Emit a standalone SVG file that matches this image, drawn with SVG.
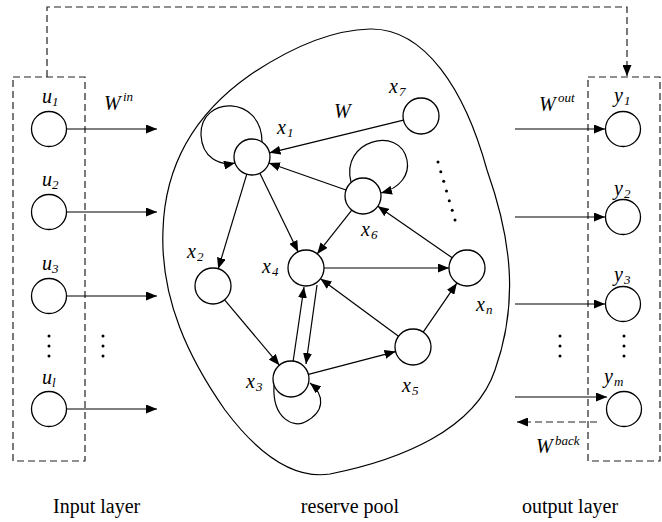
<svg xmlns="http://www.w3.org/2000/svg" width="662" height="522" viewBox="0 0 662 522">
<style>
.n{fill:#fff;stroke:#000;stroke-width:1.3}
.e{fill:none;stroke:#000;stroke-width:1.2}
.d{fill:none;stroke:#222;stroke-width:1.2;stroke-dasharray:7,4}
.t{font-family:"Liberation Serif","Times New Roman",serif;font-style:italic;font-size:20px;fill:#000}
.s{font-family:"Liberation Serif","Times New Roman",serif;font-style:italic;font-size:13px;fill:#000}
.h{font-family:"Liberation Serif","Times New Roman",serif;font-size:20px;fill:#000}
.dot{fill:#000}
</style>
<defs>
<marker id="a" markerUnits="userSpaceOnUse" markerWidth="12" markerHeight="9" refX="11" refY="4.5" orient="auto"><path d="M0,0 L11,4.5 L0,9 z" fill="#000"/></marker>
</defs>
<rect width="662" height="522" fill="#fff"/>

<g id="layers">
<rect x="13" y="77" width="72" height="384" class="d"/>
<rect x="588" y="77" width="72" height="384" class="d"/>
<path d="M370,29 C425,28 465,90 487,170 C510,235 520,300 495,370 C475,430 400,460 330,474 C290,480 255,450 225,410 C190,360 160,300 163,230 C165,160 200,110 250,75 C290,48 330,30 370,29 Z" class="e"/>
</g>

<g id="connectors">
<path d="M47,77 V7 H627 V76" class="d" marker-end="url(#a)"/>
<line x1="67" y1="129" x2="157" y2="129" class="e" marker-end="url(#a)"/>
<line x1="67" y1="212" x2="157" y2="212" class="e" marker-end="url(#a)"/>
<line x1="67" y1="296" x2="157" y2="296" class="e" marker-end="url(#a)"/>
<line x1="67" y1="409" x2="157" y2="409" class="e" marker-end="url(#a)"/>
<line x1="515" y1="129" x2="605" y2="129" class="e" marker-end="url(#a)"/>
<line x1="515" y1="217" x2="605" y2="217" class="e" marker-end="url(#a)"/>
<line x1="515" y1="304" x2="605" y2="304" class="e" marker-end="url(#a)"/>
<line x1="515" y1="397" x2="607" y2="397" class="e" marker-end="url(#a)"/>
<line x1="597" y1="422" x2="517" y2="422" class="d" marker-end="url(#a)"/>

<line x1="403.5" y1="120.2" x2="269.5" y2="152.8" class="e" marker-end="url(#a)"/>
<line x1="346" y1="190" x2="269" y2="163" class="e" marker-end="url(#a)"/>
<line x1="246.8" y1="174.2" x2="218.2" y2="268.8" class="e" marker-end="url(#a)"/>
<line x1="259.9" y1="173.2" x2="298.1" y2="251.8" class="e" marker-end="url(#a)"/>
<line x1="351.8" y1="210.1" x2="317.2" y2="253.9" class="e" marker-end="url(#a)"/>
<line x1="452.2" y1="257.8" x2="377.8" y2="206.2" class="e" marker-end="url(#a)"/>
<line x1="324" y1="268" x2="449" y2="268" class="e" marker-end="url(#a)"/>
<line x1="398.5" y1="336.3" x2="320.5" y2="278.7" class="e" marker-end="url(#a)"/>
<line x1="423.2" y1="332.1" x2="456.8" y2="283.2" class="e" marker-end="url(#a)"/>
<line x1="308.4" y1="374.4" x2="395.6" y2="351.6" class="e" marker-end="url(#a)"/>
<line x1="224.6" y1="299.8" x2="279.4" y2="365.2" class="e" marker-end="url(#a)"/>
<line x1="293" y1="362" x2="304" y2="287" class="e" marker-end="url(#a)"/>
<line x1="317" y1="285" x2="306" y2="364" class="e" marker-end="url(#a)"/>
<path d="M262,142 C262,95 200,95 201,135 C202,158 220,166 235,163" class="e" marker-end="url(#a)"/>
<path d="M351,182 C340,140 400,125 407,160 C410,175 400,188 381,193" class="e" marker-end="url(#a)"/>
<path d="M274,385 C272,420 295,428 305,422 C325,412 325,395 310,383" class="e" marker-end="url(#a)"/>
</g>

<g id="u1"><circle cx="49" cy="129" r="17.5" class="n"/><text x="42" y="103" class="t">u</text><text x="52" y="106" class="s">1</text></g>
<g id="u2"><circle cx="49" cy="212" r="17.5" class="n"/><text x="42" y="186" class="t">u</text><text x="52" y="189" class="s">2</text></g>
<g id="u3"><circle cx="49" cy="296" r="17.5" class="n"/><text x="42" y="270" class="t">u</text><text x="52" y="273" class="s">3</text></g>
<g id="ul"><circle cx="49" cy="409" r="17.5" class="n"/><text x="42" y="384" class="t">u</text><text x="52" y="387" class="s">l</text></g>

<g id="y1"><circle cx="623" cy="129" r="17.5" class="n"/><text x="614" y="102" class="t">y</text><text x="624" y="105" class="s">1</text></g>
<g id="y2"><circle cx="623" cy="217" r="17.5" class="n"/><text x="614" y="195" class="t">y</text><text x="624" y="198" class="s">2</text></g>
<g id="y3"><circle cx="623" cy="304" r="17.5" class="n"/><text x="614" y="281" class="t">y</text><text x="624" y="284" class="s">3</text></g>
<g id="ym"><circle cx="624" cy="409" r="17.5" class="n"/><text x="604" y="383" class="t">y</text><text x="614" y="386" class="s">m</text></g>

<g id="x1"><circle cx="252" cy="157" r="18" class="n"/><text x="277" y="134" class="t">x</text><text x="287" y="137" class="s">1</text></g>
<g id="x7"><circle cx="421" cy="116" r="18" class="n"/><text x="389" y="93" class="t">x</text><text x="399" y="96" class="s">7</text></g>
<g id="x6"><circle cx="363" cy="196" r="18" class="n"/><text x="361" y="236" class="t">x</text><text x="371" y="239" class="s">6</text></g>
<g id="x2"><circle cx="213" cy="286" r="18" class="n"/><text x="187" y="258" class="t">x</text><text x="197" y="261" class="s">2</text></g>
<g id="x4"><circle cx="306" cy="268" r="18" class="n"/><text x="262" y="273" class="t">x</text><text x="272" y="276" class="s">4</text></g>
<g id="xn"><circle cx="467" cy="268" r="18" class="n"/><text x="476" y="311" class="t">x</text><text x="486" y="314" class="s">n</text></g>
<g id="x3"><circle cx="291" cy="379" r="18" class="n"/><text x="246" y="388" class="t">x</text><text x="256" y="391" class="s">3</text></g>
<g id="x5"><circle cx="413" cy="347" r="18" class="n"/><text x="402" y="392" class="t">x</text><text x="412" y="395" class="s">5</text></g>

<g id="labels">
<text x="334" y="118" class="t">W</text>
<text x="104" y="110" class="t">W</text><text x="123" y="101" class="s">in</text>
<text x="539" y="111" class="t">W</text><text x="558" y="102" class="s">out</text>
<text x="536" y="453" class="t">W</text><text x="555" y="445" class="s">back</text>
<text x="53" y="513" class="h">Input layer</text>
<text x="350" y="513" class="h" text-anchor="middle">reserve pool</text>
<text x="522" y="513" class="h">output layer</text>
</g>

<g id="dots">
<circle cx="49" cy="336" r="1.5" class="dot"/><circle cx="49" cy="346" r="1.5" class="dot"/><circle cx="49" cy="356" r="1.5" class="dot"/>
<circle cx="103" cy="336" r="1.5" class="dot"/><circle cx="103" cy="346" r="1.5" class="dot"/><circle cx="103" cy="356" r="1.5" class="dot"/>
<circle cx="560" cy="336" r="1.5" class="dot"/><circle cx="560" cy="346" r="1.5" class="dot"/><circle cx="560" cy="356" r="1.5" class="dot"/>
<circle cx="624" cy="336" r="1.5" class="dot"/><circle cx="624" cy="346" r="1.5" class="dot"/><circle cx="624" cy="356" r="1.5" class="dot"/>
<circle cx="438" cy="162" r="1.5" class="dot"/><circle cx="440.8" cy="171.7" r="1.5" class="dot"/><circle cx="443.7" cy="181.3" r="1.5" class="dot"/><circle cx="446.5" cy="191" r="1.5" class="dot"/><circle cx="449.3" cy="200.7" r="1.5" class="dot"/><circle cx="452.2" cy="210.3" r="1.5" class="dot"/><circle cx="455" cy="220" r="1.5" class="dot"/>
</g>
</svg>
